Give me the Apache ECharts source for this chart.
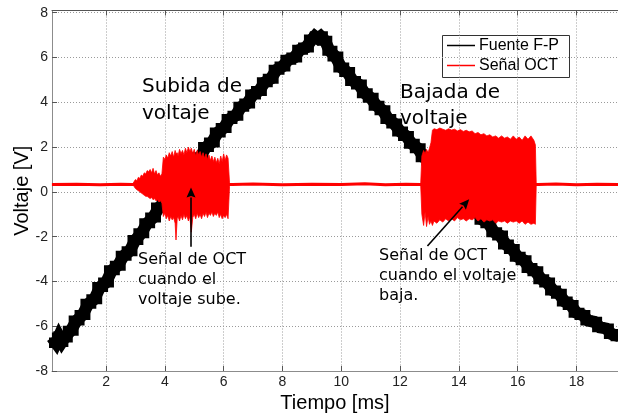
<!DOCTYPE html>
<html><head><meta charset="utf-8">
<script src="https://cdn.jsdelivr.net/npm/echarts@6/dist/echarts.min.js"></script>
<style>html,body{margin:0;padding:0;background:#fff}#c{width:618px;height:418px}</style>
</head><body><div id="c"></div>
<script>
// ---- data ----
const xTicks = [2, 4, 6, 8, 10, 12, 14, 16, 18];
const yTicks = [-8, -6, -4, -2, 0, 2, 4, 6, 8];
const legendNames = ['Fuente F-P', 'Señal OCT'];
const seriesColors = ['#000000', '#ff0000'];

// Fuente F-P (thick noisy triangle), [ms, V]
const fuenteFP = [
 [0.16,-6.5],[0.3,-6.75],[0.4,-6.45],[0.5,-6.7],[0.6,-6.5],[0.8,-6.2],[1.0,-5.75],[1.2,-5.5],[1.4,-5.0],[1.6,-4.8],[1.8,-4.25],[2.0,-4.05],
 [2.2,-3.5],[2.4,-3.3],[2.6,-2.85],[2.8,-2.65],[3.0,-2.15],[3.2,-1.85],[3.4,-1.4],[3.6,-1.15],[3.8,-0.7],[4.0,-0.45],
 [4.2,0.0],[4.4,0.25],[4.6,0.68],[4.8,0.9],[5.0,1.35],[5.2,1.55],[5.4,2.0],[5.6,2.2],[5.8,2.65],[6.0,2.85],
 [6.2,3.25],[6.4,3.4],[6.6,3.8],[6.8,3.95],[7.0,4.35],[7.2,4.5],[7.4,4.9],[7.6,5.05],[7.8,5.45],[8.0,5.6],
 [8.2,5.9],[8.4,6.0],[8.6,6.35],[8.8,6.45],[9.0,6.8],[9.1,6.95],[9.2,6.85],[9.3,6.95],[9.45,6.75],[9.6,6.3],[9.8,6.05],[10.0,5.55],
 [10.2,5.35],[10.4,4.95],[10.6,4.8],[10.8,4.4],[11.0,4.2],[11.2,3.85],[11.4,3.65],[11.6,3.25],[11.8,3.05],[12.0,2.7],
 [12.2,2.5],[12.4,2.15],[12.6,1.95],[12.8,1.55],[13.0,1.4],[13.2,1.0],[13.4,0.8],[13.6,0.45],[13.8,0.25],[14.0,-0.1],
 [14.2,-0.3],[14.4,-0.65],[14.6,-0.85],[14.8,-1.25],[15.0,-1.4],[15.2,-1.8],[15.4,-1.95],[15.6,-2.35],[15.8,-2.55],[16.0,-2.9],
 [16.2,-3.05],[16.4,-3.4],[16.6,-3.55],[16.8,-3.9],[17.0,-4.05],[17.2,-4.4],[17.4,-4.55],[17.6,-4.9],[17.8,-5.05],[18.0,-5.4],
 [18.2,-5.5],[18.4,-5.75],[18.6,-5.8],[18.8,-6.05],[19.0,-6.1],[19.2,-6.35],[19.45,-6.45]
];

// Señal OCT quiet baseline, [ms, V]
const octBaseline = [
 [0.16,0.33],[1.0,0.34],[1.8,0.32],[2.5,0.34],[2.9,0.33],[6.3,0.33],[7.0,0.35],[8.0,0.32],[9.0,0.34],[10.0,0.33],
 [10.8,0.36],[11.5,0.32],[12.2,0.34],[12.7,0.33],[16.7,0.33],[17.3,0.35],[18.0,0.32],[18.7,0.34],[19.45,0.33]
];

// Burst 1 (voltage rising): envelope of the OCT signal
const burst1Time  = [2.90,2.95,3.00,3.05,3.10,3.15,3.20,3.25,3.30,3.35,3.40,3.45,3.50,3.55,3.60,3.65,3.70,3.75,3.80,3.85,3.90,
 3.95,4.00,4.05,4.10,4.15,4.20,4.25,4.30,4.35,4.38,4.42,4.45,4.50,4.55,4.60,4.65,4.70,4.75,4.80,4.85,4.90,4.95,
 5.00,5.05,5.10,5.15,5.20,5.25,5.30,5.35,5.40,5.45,5.50,5.55,5.60,5.65,5.70,5.75,5.80,5.85,5.90,5.95,6.00,6.05,6.10,6.15,6.20,6.22];
const burst1Upper = [0.33,0.45,0.55,0.50,0.65,0.60,0.75,0.70,0.85,0.80,0.95,0.90,1.00,0.85,1.05,0.80,0.95,0.75,0.85,0.70,0.80,
 1.55,1.45,1.65,1.50,1.75,1.60,1.80,1.55,1.85,1.70,1.75,1.60,1.90,1.70,1.85,1.65,1.95,1.75,2.00,1.80,1.95,1.70,
 1.90,1.60,1.85,1.65,1.80,1.55,1.75,1.50,1.70,1.45,1.65,1.40,1.60,1.35,1.55,1.30,1.50,1.25,1.60,1.35,1.70,1.40,1.65,1.50,0.40,0.33];
const burst1Lower = [0.33,0.25,0.15,0.10,0.05,0.00,-0.05,-0.10,-0.15,-0.20,-0.20,-0.25,-0.30,-0.25,-0.35,-0.30,-0.40,-0.35,-0.45,-0.40,-0.50,
 -1.10,-0.95,-1.20,-1.05,-1.30,-1.10,-1.25,-1.15,-1.40,-2.15,-1.20,-1.10,-1.30,-1.05,-1.25,-1.00,-1.20,-1.05,-1.30,-1.10,-1.80,-1.15,
 -1.00,-1.20,-0.95,-1.15,-1.00,-1.20,-0.95,-1.10,-0.90,-1.15,-0.95,-1.05,-0.90,-1.10,-0.95,-1.05,-0.90,-1.15,-1.00,-1.20,-1.05,-1.15,-1.00,-1.20,0.25,0.33];

// Burst 2 (voltage falling): envelope of the OCT signal
const burst2Time  = [12.70,12.74,12.80,12.85,12.90,12.95,13.00,13.05,13.10,13.15,13.25,13.35,13.45,13.55,13.65,13.75,13.85,13.95,
 14.05,14.15,14.25,14.35,14.45,14.55,14.65,14.75,14.85,14.95,15.05,15.15,15.25,15.35,15.45,15.55,15.65,15.75,15.85,15.95,
 16.05,16.15,16.25,16.35,16.45,16.55,16.60,16.63];
const burst2Upper = [0.33,1.60,1.85,1.70,1.90,1.75,1.95,2.20,2.75,2.82,2.78,2.85,2.80,2.75,2.82,2.76,2.80,2.72,
 2.78,2.70,2.75,2.68,2.72,2.60,2.65,2.55,2.60,2.50,2.55,2.45,2.50,2.40,2.50,2.40,2.45,2.35,2.50,2.35,
 2.45,2.30,2.50,2.35,2.50,2.30,2.10,0.33];
const burst2Lower = [0.33,-1.00,-1.50,-0.90,-1.55,-1.10,-1.45,-1.30,-1.50,-1.30,-1.40,-1.25,-1.35,-1.20,-1.30,-1.20,-1.30,-1.15,
 -1.25,-1.20,-1.30,-1.20,-1.25,-1.15,-1.30,-1.20,-1.35,-1.25,-1.30,-1.25,-1.40,-1.30,-1.35,-1.30,-1.40,-1.30,-1.35,-1.30,
 -1.40,-1.30,-1.45,-1.35,-1.45,-1.40,-1.45,0.33];

// annotation arrows: [tailX, tailY, headX, headY] in data units
const arrowRise = [4.89, -2.45, 4.89, 0.2];
const arrowFall = [12.93, -2.42, 14.35, -0.33];
const labelRise = 'Subida de\nvoltaje';
const labelFall = 'Bajada de\nvoltaje';
const noteRise = 'Señal de OCT\ncuando el\nvoltaje sube.';
const noteFall = 'Señal de OCT\ncuando el voltaje\nbaja.';

// ---- chart ----
const X_MIN = 0.163, X_MAX = 19.41;
const AX_FONT = 'Liberation Sans, Arial, Helvetica, sans-serif';
const ANN_FONT = 'DejaVu Sans, sans-serif';

function bandSeries(name, t, up, lo) {
  return {
    type: 'custom', name: name, silent: true, clip: true, z: 3,
    data: [[t[0], up[0]]],
    renderItem: function (params, api) {
      const pts = [];
      for (let i = 0; i < t.length; i++) pts.push(api.coord([t[i], up[i]]));
      for (let i = t.length - 1; i >= 0; i--) pts.push(api.coord([t[i], lo[i]]));
      return { type: 'polygon', shape: { points: pts },
        style: { fill: '#ff0000', stroke: '#ff0000', lineWidth: 0.8 } };
    }
  };
}

function arrowSeries(name, arrows) {
  return {
    type: 'custom', name: name, silent: true, clip: false, z: 6,
    data: arrows.map(a => a.slice()),
    renderItem: function (params, api) {
      const p0 = api.coord([api.value(0), api.value(1)]);
      const p1 = api.coord([api.value(2), api.value(3)]);
      const dx = p1[0] - p0[0], dy = p1[1] - p0[1];
      const len = Math.sqrt(dx * dx + dy * dy);
      const ux = dx / len, uy = dy / len;
      const headL = 10, headW = 4.5;
      const bx = p1[0] - ux * headL, by = p1[1] - uy * headL;
      return { type: 'group', children: [
        { type: 'line', shape: { x1: p0[0], y1: p0[1], x2: bx, y2: by },
          style: { stroke: '#000', lineWidth: 1.6 } },
        { type: 'polygon', shape: { points: [
            [p1[0], p1[1]], [bx - uy * headW, by + ux * headW], [bx + ux * 1.5, by + uy * 1.5], [bx + uy * headW, by - ux * headW]] },
          style: { fill: '#000' } }
      ] };
    }
  };
}

const chart = echarts.init(document.getElementById('c'), null, { renderer: 'canvas' });
const axisCommon = { min: X_MIN, max: X_MAX, type: 'value' };
const LG = { x: 442, y: 35, w: 127, h: 42 };
chart.setOption({
  animation: false,
  backgroundColor: '#ffffff',
  grid: { left: 52, right: 0, top: 10.5, bottom: 47, containLabel: false, outerBoundsMode: 'none' },
  xAxis: [
    Object.assign({}, axisCommon, {
      position: 'bottom',
      name: 'Tiempo [ms]', nameLocation: 'middle', nameGap: 20,
      nameTextStyle: { fontSize: 20, fontFamily: AX_FONT, color: '#000' },
      axisLine: { show: true, onZero: false, lineStyle: { color: '#8c8c8c', width: 1 } },
      axisTick: { show: true, inside: true, length: 5, customValues: xTicks, lineStyle: { color: '#555' } },
      axisLabel: { customValues: xTicks, margin: 4, fontSize: 14, fontFamily: AX_FONT, color: '#222' },
      splitLine: { show: true, lineStyle: { type: [1, 2], color: '#9a9a9a', width: 1 } }
    }),
    Object.assign({}, axisCommon, {
      position: 'top',
      axisLine: { show: true, onZero: false, lineStyle: { color: '#555', width: 1 } },
      axisTick: { show: true, inside: true, length: 5, customValues: xTicks, lineStyle: { color: '#555' } },
      axisLabel: { show: false },
      splitLine: { show: false }
    })
  ],
  yAxis: [{
    type: 'value', min: -8, max: 8.1,
    name: 'Voltaje [V]', nameLocation: 'middle', nameGap: 20, nameRotate: 90, nameMoveOverlap: false,
    nameTextStyle: { fontSize: 20, fontFamily: AX_FONT, color: '#000' },
    axisLine: { show: true, onZero: false, lineStyle: { color: '#8c8c8c', width: 1 } },
    axisTick: { show: true, inside: true, length: 5, customValues: yTicks, lineStyle: { color: '#555' } },
    axisLabel: { customValues: yTicks, margin: 4, fontSize: 14, fontFamily: AX_FONT, color: '#222' },
    splitLine: { show: true, lineStyle: { type: [1, 2], color: '#9a9a9a', width: 1 } }
  }],
  series: [
    { type: 'line', name: legendNames[0], data: fuenteFP, symbol: 'none', silent: true,
      lineStyle: { color: seriesColors[0], width: 12, join: 'miter' }, z: 2 },
    { type: 'line', name: legendNames[0], data: fuenteFP, symbol: 'none', silent: true, step: 'middle',
      lineStyle: { color: seriesColors[0], width: 10, join: 'miter', cap: 'butt' }, z: 2 },
    { type: 'line', name: legendNames[1], data: octBaseline, symbol: 'none', silent: true,
      lineStyle: { color: seriesColors[1], width: 3 }, z: 3 },
    bandSeries('burst1', burst1Time, burst1Upper, burst1Lower),
    bandSeries('burst2', burst2Time, burst2Upper, burst2Lower),
    arrowSeries('arrows', [arrowRise, arrowFall])
  ],
  graphic: [
    { type: 'text', left: 142, top: 73, z: 10, silent: true,
      style: { text: labelRise, font: '20px ' + ANN_FONT, fill: '#000', lineHeight: 27 } },
    { type: 'text', left: 400, top: 80, z: 10, silent: true,
      style: { text: labelFall, font: '20px ' + ANN_FONT, fill: '#000', lineHeight: 26 } },
    { type: 'text', left: 138, top: 250, z: 10, silent: true,
      style: { text: noteRise, font: '16px ' + ANN_FONT, fill: '#000', lineHeight: 20 } },
    { type: 'text', left: 379, top: 246, z: 10, silent: true,
      style: { text: noteFall, font: '16px ' + ANN_FONT, fill: '#000', lineHeight: 20 } },
    { type: 'group', left: LG.x, top: LG.y, z: 20, silent: true, children: [
      { type: 'rect', shape: { x: 0.5, y: 0.5, width: LG.w, height: LG.h },
        style: { fill: '#fff', stroke: '#333', lineWidth: 1 } },
      { type: 'line', shape: { x1: 5, y1: 10.5, x2: 33, y2: 10.5 }, style: { stroke: seriesColors[0], lineWidth: 1.5 } },
      { type: 'text', x: 37, y: 11, style: { text: legendNames[0], font: '16px ' + AX_FONT, fill: '#000', verticalAlign: 'middle' } },
      { type: 'line', shape: { x1: 5, y1: 30.5, x2: 33, y2: 30.5 }, style: { stroke: seriesColors[1], lineWidth: 1.5 } },
      { type: 'text', x: 37, y: 31, style: { text: legendNames[1], font: '16px ' + AX_FONT, fill: '#000', verticalAlign: 'middle' } }
    ] }
  ]
});
</script></body></html>
